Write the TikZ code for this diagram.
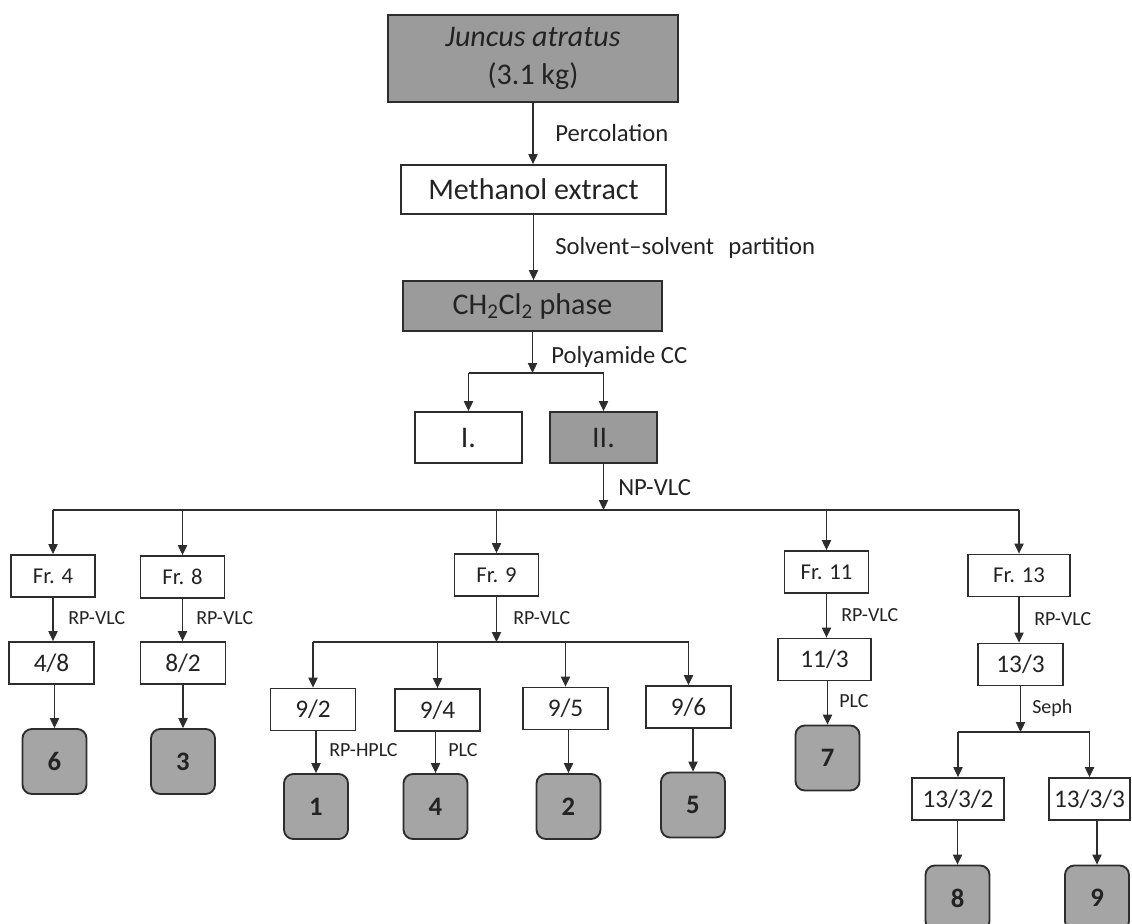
\documentclass[tikz,border=0pt]{standalone}
\usepackage{fontspec}
\setmainfont{Carlito}
\usepackage{tikz}
\usetikzlibrary{positioning,arrows.meta,calc}
\definecolor{linegray}{RGB}{45,45,45}
\definecolor{topgray}{RGB}{155,155,155}
\definecolor{cmpdgray}{RGB}{165,165,165}
\definecolor{txtgray}{RGB}{35,35,35}

\begin{document}
\begin{tikzpicture}[x=0.75pt, y=-0.75pt,
    every node/.style={text=txtgray},
    box/.style={draw=linegray, line width=1.4pt, rectangle, inner sep=0pt},
    mainbox/.style={box, font=\fontsize{22.5}{28}\selectfont},
    frbox/.style={box, minimum width=63pt, minimum height=31.5pt, font=\fontsize{17}{19}\selectfont},
    subbox/.style={box, minimum width=63.75pt, minimum height=31.5pt, font=\fontsize{19}{21}\selectfont},
    cmpd/.style={draw=linegray, line width=1.4pt, fill=cmpdgray, rounded corners=7pt, inner sep=0pt,
        minimum width=48pt, minimum height=48.75pt, font=\fontsize{20}{22}\selectfont\bfseries},
    lbl/.style={anchor=west, inner sep=0pt, font=\fontsize{18.5}{20}\selectfont},
    slbl/.style={anchor=west, inner sep=0pt, font=\fontsize{15}{16}\selectfont},
    ln/.style={draw=linegray, line width=0.8pt},
    arr/.style={ln, -{Triangle[length=7.5pt,width=7pt]}}]
    \useasboundingbox (0,0) rectangle (1132,924);

    \node [mainbox, fill=topgray, minimum width=217.5pt, minimum height=65.25pt, align=center] (src) at (533,58.5) {\textit{Juncus atratus}\\(3.1 kg)};
    \node [mainbox, minimum width=198.75pt, minimum height=36.75pt] (meoh) at (533.5,189.5) {Methanol extract};
    \node [mainbox, fill=topgray, minimum width=194.25pt, minimum height=37.5pt] (dcm) at (532.5,306) {CH\textsubscript{2}Cl\textsubscript{2} phase};
    \node [mainbox, minimum width=80.25pt, minimum height=38.25pt] (pI) at (468.5,437.5) {I.};
    \node [mainbox, fill=topgray, minimum width=80.25pt, minimum height=38.25pt] (pII) at (603.5,437.5) {II.};

    \node [frbox] (fr4) at (53,576) {Fr. 4};
    \node [frbox] (fr8) at (182.5,577) {Fr. 8};
    \node [frbox] (fr9) at (496.5,575) {Fr. 9};
    \node [frbox] (fr11) at (826.5,572) {Fr. 11};
    \node [frbox, minimum width=76.5pt] (fr13) at (1019,575.5) {Fr. 13};

    \node [subbox] (s48) at (51.5,663) {4/8};
    \node [subbox] (s82) at (183,663) {8/2};
    \node [subbox, minimum width=69.75pt] (s113) at (824.5,659.5) {11/3};
    \node [subbox] (s133) at (1020.5,664.5) {13/3};
    \node [subbox] (s92) at (313,709.5) {9/2};
    \node [subbox] (s94) at (437.5,710) {9/4};
    \node [subbox] (s95) at (565.5,708.5) {9/5};
    \node [subbox] (s96) at (688.5,707) {9/6};
    \node [subbox, minimum width=69pt] (s1332) at (958,799) {13/3/2};
    \node [subbox, minimum width=60.75pt] (s1333) at (1089.5,799) {13/3/3};

    \node [cmpd] (c6) at (54.5,761.5) {6};
    \node [cmpd] (c3) at (183,761.5) {3};
    \node [cmpd] (c1) at (316,806.5) {1};
    \node [cmpd] (c4) at (435.5,806.5) {4};
    \node [cmpd] (c2) at (568.5,806.5) {2};
    \node [cmpd] (c5) at (693,805) {5};
    \node [cmpd] (c7) at (827.5,758) {7};
    \node [cmpd] (c8) at (957.5,898) {8};
    \node [cmpd] (c9) at (1097,898) {9};

    \coordinate (jpoly) at (533,373);
    \coordinate (jnp) at (603,510);
    \coordinate (j9) at (499,642);
    \coordinate (jseph) at (1018,732);

    \draw [arr] (src.south) -- (src.south |- meoh.north);
    \node [lbl] (tperc) at (555,133) {Percolation};
    \draw [arr] (meoh.south) -- (meoh.south |- dcm.north);
    \node [lbl] (tpart) at (555,248) {Solvent–solvent\hspace{0.35em} partition};
    \draw [arr] (dcm.south) -- (dcm.south |- jpoly);
    \node [lbl] (tpoly) at (551,357) {Polyamide CC};
    \draw [ln] (pI.north |- jpoly) -- (pII.north |- jpoly);
    \draw [arr] (pI.north |- jpoly) -- (pI.north);
    \draw [arr] (pII.north |- jpoly) -- (pII.north);

    \draw [arr] (pII.south) -- (pII.south |- jnp);
    \node [lbl] (tnp) at (618,488) {NP-VLC};
    \draw [ln] (fr4.north |- jnp) -- (fr13.north |- jnp);
    \foreach \f in {fr4,fr8,fr9,fr11,fr13}
        \draw [arr] (\f.north |- jnp) -- (\f.north);

    \foreach \a/\b in {fr4/s48,fr8/s82,fr11/s113,fr13/s133}
        \draw [arr] (\a.south) -- (\a.south |- \b.north);
    \node [slbl] at (68,618) {RP-VLC};
    \node [slbl] at (196,618) {RP-VLC};
    \node [slbl] at (841,615) {RP-VLC};
    \node [slbl] at (1034,619) {RP-VLC};

    \draw [arr] (fr9.south) -- (fr9.south |- j9);
    \node [slbl] at (513,618) {RP-VLC};
    \draw [ln] (s92.north |- j9) -- (s96.north |- j9);
    \foreach \s in {s92,s94,s95,s96}
        \draw [arr] (\s.north |- j9) -- (\s.north);

    \draw [arr] (s133.south) -- (s133.south |- jseph);
    \node [slbl] at (1032,708) {Seph};
    \draw [ln] (s1332.north |- jseph) -- (s1333.north |- jseph);
    \foreach \s in {s1332,s1333}
        \draw [arr] (\s.north |- jseph) -- (\s.north);

    \foreach \a/\b in {s48/c6,s82/c3,s92/c1,s94/c4,s95/c2,s96/c5,s113/c7,s1332/c8,s1333/c9}
        \draw [arr] (\b.north |- \a.south) -- (\b.north);
    \node [slbl] at (329,750) {RP-HPLC};
    \node [slbl] at (448,750) {PLC};
    \node [slbl] at (839,701) {PLC};
\end{tikzpicture}
\end{document}
